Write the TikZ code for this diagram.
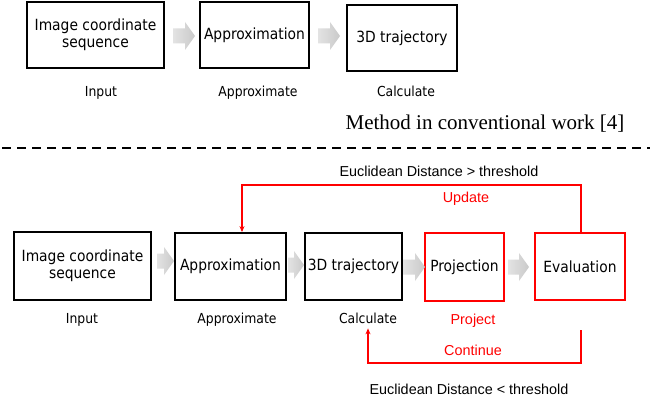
\documentclass[tikz,border=0pt]{standalone}
\usepackage{fontspec}
\usetikzlibrary{arrows.meta}
\newfontfamily\tah{DejaVu Sans Condensed}
\newfontfamily\ari{Liberation Sans}
\newfontfamily\tms{Liberation Serif}
\newcommand\grarrow[3]{\shade[garr] ({#1},{#3-7.5}) -- ({#2-10},{#3-7.5}) -- ({#2-10},{#3-14}) -- ({#2},{#3}) -- ({#2-10},{#3+14}) -- ({#2-10},{#3+7.5}) -- ({#1},{#3+7.5}) -- cycle;}
\begin{document}
\begin{tikzpicture}[x=1pt,y=-1pt,
 boxb/.style={draw=black,line width=1.8pt,inner sep=0pt,align=center,font=\tah\fontsize{15.4}{17.5}\selectfont},
 boxr/.style={boxb,draw=red},
 lab/.style={inner sep=0pt,anchor=base,font=\tah\fontsize{13.8}{16}\selectfont},
 alab/.style={inner sep=0pt,anchor=base,font=\ari\fontsize{14.4}{17}\selectfont},
 rlab/.style={alab,text=red},
 redloop/.style={draw=red,line width=1.4pt,-{Stealth[length=6pt,width=5pt]}},
 garr/.style={left color=gray!22,right color=gray!42,draw=none},
 sepline/.style={line width=1.8pt,dash pattern=on 9pt off 6pt}]
\fill[white] (0,0) rectangle (667,401);
\useasboundingbox (0,0) rectangle (667,401);
% top row
\node[boxb,minimum width=137pt,minimum height=66pt] (b1) at (95.5,35) {Image coordinate\\sequence};
\node[boxb,minimum width=109pt,minimum height=66pt] (b2) at (254.5,35) {Approximation};
\node[boxb,minimum width=110pt,minimum height=66pt] (b3) at (402,38) {3D trajectory};
\grarrow{173}{195}{36}
\grarrow{318}{340}{36}
\node[lab] (l1) at (101,96.5) {Input};
\node[lab] (l2) at (258,96.5) {Approximate};
\node[lab] (l3) at (406,96.5) {Calculate};
\node[inner sep=0pt,anchor=base,font=\tms\fontsize{21}{25}\selectfont] (meth) at (485,130) {Method in conventional work [4]};
\coordinate (dl) at (2,148);
\coordinate (dr) at (650,148);
\draw[sepline] (dl) -- (dr);
% bottom row
\node[boxb,minimum width=137pt,minimum height=68pt] (c1) at (82.5,266) {Image coordinate\\sequence};
\node[boxb,minimum width=111pt,minimum height=67pt] (c2) at (230.5,266.5) {Approximation};
\node[boxb,minimum width=97pt,minimum height=67pt] (c3) at (353.5,266.5) {3D trajectory};
\node[boxr,minimum width=79pt,minimum height=68pt] (c4) at (464.5,267) {Projection};
\node[boxr,minimum width=90pt,minimum height=67pt] (c5) at (580,266.5) {Evaluation};
\grarrow{157}{174}{261}
\grarrow{288}{304}{265}
\grarrow{403}{425}{267}
\grarrow{508}{529}{267}
\node[lab] (m1) at (82,323) {Input};
\node[lab] (m2) at (237,323) {Approximate};
\node[lab] (m3) at (368,323) {Calculate};
\node[rlab] (m4) at (473,324) {Project};
\node[alab] (gt) at (439,177) {Euclidean Distance > threshold};
\node[rlab] (upd) at (466,203) {Update};
\node[rlab] (cont) at (473,355) {Continue};
\node[alab] (lt) at (469,394) {Euclidean Distance < threshold};
\draw[redloop] ([xshift=1pt]c5.north) -- ++(0,-47) -| ([xshift=11.5pt]c2.north);
\coordinate (cs) at (581,330);
\draw[redloop] (cs) -- ++(0,33) -| ([yshift=-5pt]m3.south);
\end{tikzpicture}
\end{document}
